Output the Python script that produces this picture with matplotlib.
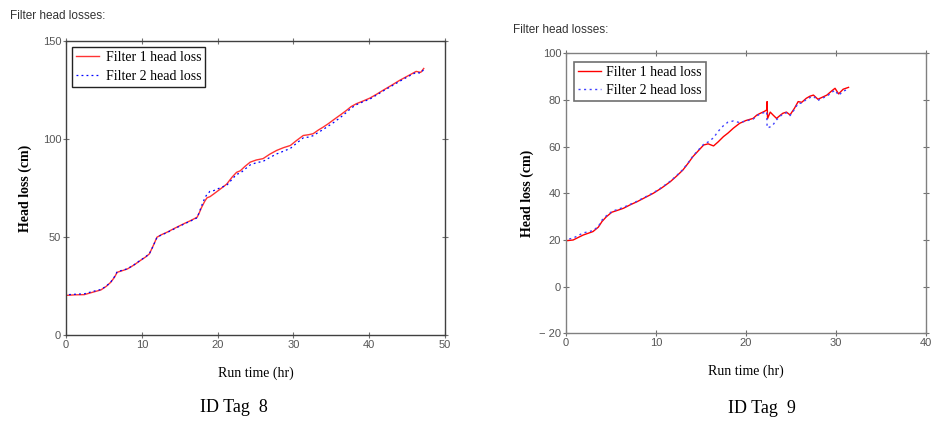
import matplotlib.pyplot as plt

# ID Tag 8 - filter 1 (red solid) and filter 2 (blue dotted)
t8_f1 = [0, 0, 0, 0.3, 1.2, 2.4, 3.5, 4.6, 5.3, 5.9, 6.4, 6.75, 7.4, 8.1, 9.0, 9.8, 10.5, 11.0,
         11.5, 12.0, 12.6, 13.3, 14.4, 15.5, 16.4, 17.3, 17.6, 17.9, 18.3, 18.6, 19.0, 19.5,
         20.4, 21.2, 21.9, 22.5, 23.0, 23.6, 24.3, 25.1, 26.0, 26.9, 27.8, 28.7, 29.6, 30.4,
         31.3, 32.0, 32.6, 33.3, 33.9, 34.6, 35.3, 36.2, 37.0, 37.6, 38.3, 39.2, 40.1, 41.0,
         41.8, 42.9, 44.0, 45.1, 46.2, 46.8, 47.2]
h8_f1 = [8, 33, 20.2, 20.3, 20.5, 20.6, 21.8, 23.0, 24.8, 26.9, 29.5, 32.0, 32.8, 33.7, 35.8,
         38.0, 39.8, 41.4, 45.5, 49.9, 51.2, 52.4, 54.6, 56.7, 58.3, 60.1, 62.5, 65.2, 68.2,
         70.0, 70.6, 72.0, 74.6, 77.0, 80.5, 83.0, 83.8, 86.0, 88.2, 89.3, 90.0, 92.3, 94.2,
         95.6, 96.7, 99.2, 101.8, 102.2, 102.7, 104.6, 106.0, 107.8, 109.8, 112.3, 114.6,
         116.5, 118.0, 119.4, 120.9, 122.9, 124.8, 127.3, 129.9, 132.2, 134.5, 134.0, 136.0]
t8_f2 = [0, 0, 0, 0.3, 1.2, 2.4, 3.5, 4.6, 5.3, 5.9, 6.4, 6.75, 7.4, 8.1, 9.0, 9.8, 10.5, 11.0,
         11.5, 12.0, 12.6, 13.3, 14.4, 15.5, 16.4, 17.3, 17.6, 17.9, 18.3, 18.6, 19.0, 19.5,
         20.4, 21.2, 21.9, 22.5, 23.0, 23.6, 24.3, 25.1, 26.0, 26.9, 27.8, 28.7, 29.6, 30.4,
         31.3, 32.0, 32.6, 33.3, 33.9, 34.6, 35.3, 36.2, 37.0, 37.6, 38.3, 39.2, 40.1, 41.0,
         41.8, 42.9, 44.0, 45.1, 46.2, 46.8, 47.2]
h8_f2 = [10, 31, 20.4, 20.6, 20.8, 21.0, 22.2, 23.2, 24.9, 27.0, 29.8, 32.3, 33.0, 33.8, 35.9,
         38.1, 39.9, 41.5, 45.4, 49.8, 51.1, 52.2, 54.4, 56.5, 58.1, 59.8, 62.8, 66.0, 69.8,
         71.8, 73.3, 73.7, 75.2, 76.4, 79.4, 82.0, 82.6, 84.6, 86.8, 87.9, 88.6, 90.6, 92.4,
         93.8, 95.2, 97.8, 100.6, 101.0, 101.7, 103.4, 104.8, 106.6, 108.4, 111.0, 113.6,
         115.7, 117.5, 119.0, 120.4, 122.5, 124.4, 126.9, 129.4, 131.8, 134.0, 133.6, 135.5]

# ID Tag 9
t9_f1 = [0, 0.02, 0.07, 0.8, 1.9, 3.0, 3.6, 4.0, 4.5, 5.1, 5.8, 6.4, 7.1, 7.9, 8.8, 9.7, 10.6,
         11.6, 12.3, 13.0, 13.6, 14.1, 14.7, 15.3, 15.8, 16.4, 16.9, 17.5, 18.0, 18.6, 19.3,
         20.0, 20.8, 21.2, 21.6, 22.0, 22.3, 22.35, 22.4, 22.7, 23.0, 23.4, 23.8, 24.1, 24.5,
         24.9, 25.4, 25.8, 26.2, 26.7, 27.1, 27.5, 28.0, 28.5, 29.0, 29.5, 29.9, 30.3, 30.8,
         31.4]
h9_f1 = [3, 19.5, 19.7, 20.0, 22.1, 23.6, 25.5, 27.9, 30.0, 31.9, 32.8, 33.6, 35.0, 36.4, 38.2,
         40.0, 42.2, 45.0, 47.4, 50.0, 53.0, 55.7, 58.2, 60.7, 61.2, 60.3, 62.0, 64.3, 65.8,
         67.9, 70.0, 71.2, 72.1, 73.5, 74.3, 75.0, 75.7, 79.3, 72.0, 74.8, 73.6, 72.1, 73.4,
         74.3, 74.8, 73.6, 76.5, 79.3, 79.0, 80.7, 81.6, 82.1, 80.3, 81.2, 82.1, 83.8, 85.0,
         82.6, 84.6, 85.4]
t9_f2 = [0, 0.02, 0.07, 0.8, 1.9, 3.0, 3.6, 4.0, 4.5, 5.1, 5.8, 6.4, 7.1, 7.9, 8.8, 9.7, 10.6,
         11.6, 12.3, 13.0, 13.6, 14.1, 14.7, 15.3, 15.8, 16.4, 16.9, 17.5, 18.0, 18.6, 19.3,
         20.0, 20.8, 21.2, 21.6, 22.0, 22.3, 22.35, 22.4, 22.7, 23.0, 23.4, 23.8, 24.1, 24.5,
         24.9, 25.4, 25.8, 26.2, 26.7, 27.1, 27.5, 28.0, 28.5, 29.0, 29.5, 29.9, 30.3, 30.8,
         31.4]
h9_f2 = [0, 20.0, 20.2, 20.8, 23.0, 24.0, 25.8, 28.5, 30.4, 32.2, 33.2, 34.0, 35.2, 36.6, 38.4,
         40.2, 42.4, 45.2, 47.6, 50.2, 53.2, 55.9, 58.5, 61.0, 62.0, 63.8, 66.5, 69.0, 70.5,
         71.0, 70.3, 71.0, 71.8, 73.2, 74.0, 74.6, 75.0, 69.0, 68.0, 68.5, 69.3, 71.5, 73.0,
         74.0, 74.5, 73.3, 76.0, 78.6, 78.6, 80.2, 81.0, 81.6, 79.8, 80.8, 81.6, 83.2, 84.2,
         82.0, 83.8, 84.6]

serif = ['Liberation Serif', 'DejaVu Serif']
sans = ['Liberation Sans', 'DejaVu Sans']

fig = plt.figure(figsize=(9.35, 4.23), dpi=100)

ax1 = fig.add_axes([0.0706, 0.208, 0.4053, 0.695])
ax2 = fig.add_axes([0.6053, 0.212, 0.385, 0.662])

fig.text(0.011, 0.962, 'Filter head losses:', fontsize=8.5, family=sans, color='#333333', va='center')
fig.text(0.549, 0.928, 'Filter head losses:', fontsize=8.5, family=sans, color='#333333', va='center')


def style(ax, xlim, ylim, xticks, yticks, frame, ypad):
    ax.set_xlim(*xlim)
    ax.set_ylim(*ylim)
    ax.set_xticks(xticks)
    ax.set_yticks(yticks)
    for s in ax.spines.values():
        s.set_color(frame)
        s.set_linewidth(1.0)
    ax.tick_params(direction='inout', length=5, width=0.8, color='#707070',
                   labelsize=8, labelcolor='#555555', pad=1,
                   top=True, right=True)
    for lab in ax.get_xticklabels() + ax.get_yticklabels():
        lab.set_family(sans)
    ax.set_xlabel('Run time (hr)', fontsize=10, family=serif, labelpad=12)
    ax.set_ylabel('Head loss (cm)', fontsize=10, family=serif, fontweight='bold', labelpad=ypad)


ax1.plot(t8_f1, h8_f1, color='#ff3333', lw=1.0, label='Filter 1 head loss')
ax1.plot(t8_f2, h8_f2, color='#0000ff', lw=0.9, ls=(0, (1.5, 2.5)), label='Filter 2 head loss')
style(ax1, (0, 50), (0, 150), [0, 10, 20, 30, 40, 50], [0, 50, 100, 150], '#404040', 8)
leg1 = ax1.legend(loc='upper left', prop={'family': serif, 'size': 10}, fancybox=False,
                  edgecolor='#222222', framealpha=1, borderpad=0.3, handlelength=1.7,
                  borderaxespad=0.4, labelspacing=0.45, handletextpad=0.45)
leg1.get_frame().set_linewidth(1.0)

ax2.plot(t9_f1, h9_f1, color='#ff0000', lw=1.0, label='Filter 1 head loss')
ax2.plot(t9_f2, h9_f2, color='#4040ff', lw=1.0, ls=(0, (1.5, 2.5)), label='Filter 2 head loss')
style(ax2, (0, 40), (-20, 100), [0, 10, 20, 30, 40], [-20, 0, 20, 40, 60, 80, 100], '#808080', 4)
ax2.set_yticklabels(['\u2212 20', '0', '20', '40', '60', '80', '100'], family=sans)
leg2 = ax2.legend(loc='upper left', prop={'family': serif, 'size': 10}, fancybox=False,
                  edgecolor='#707070', framealpha=1, borderpad=0.3, handlelength=1.6,
                  borderaxespad=0.6, labelspacing=0.35, handletextpad=0.4)
leg2.get_frame().set_linewidth(1.2)

fig.text(0.250, 0.037, 'ID Tag  8', fontsize=13, family=serif, ha='center', va='center')
fig.text(0.815, 0.035, 'ID Tag  9', fontsize=13, family=serif, ha='center', va='center')

fig.savefig('out.png', dpi=100)
